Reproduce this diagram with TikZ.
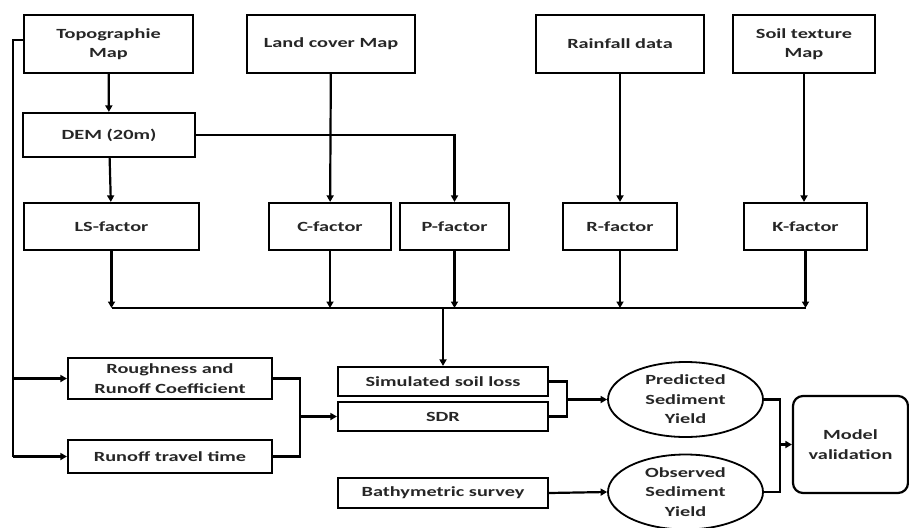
\documentclass[tikz,border=0pt]{standalone}
\usepackage{fontspec}
\setmainfont{Carlito}[FakeStretch=1.45]
\usetikzlibrary{arrows.meta,shapes.geometric}
\begin{document}
\begin{tikzpicture}[x=1pt,y=-1pt,
  every node/.style={font=\bfseries\fontsize{14}{19.5}\selectfont, text=black!85, align=center},
  box/.style={draw, line width=2.2pt, inner sep=0pt},
  ell/.style={draw, line width=1.8pt, ellipse, inner sep=0pt},
  ln/.style={line width=2.2pt},
  arr/.style={line width=2.2pt, -{Triangle[length=6.5pt,width=7pt]}}]
\useasboundingbox (0,0) rectangle (909,527);
% top sources
\node[box, minimum width=169pt, minimum height=58pt] (topo) at (108.5,44) {Topographie\\Map};
\node[box, minimum width=168pt, minimum height=58pt] (land) at (331,44) {Land cover Map};
\node[box, minimum width=168pt, minimum height=58pt] (rain) at (620,44) {Rainfall data};
\node[box, minimum width=142pt, minimum height=58pt] (soil) at (804,44) {Soil texture\\Map};
\node[box, minimum width=172pt, minimum height=44pt] (dem) at (109,135) {DEM (20m)};
% factors
\node[box, minimum width=175pt, minimum height=47pt] (ls) at (111.5,226.5) {LS-factor};
\node[box, minimum width=122pt, minimum height=47pt] (cf) at (330,226.5) {C-factor};
\node[box, minimum width=109pt, minimum height=47pt] (pf) at (454.5,226.5) {P-factor};
\node[box, minimum width=114pt, minimum height=47pt] (rf) at (620,226.5) {R-factor};
\node[box, minimum width=123pt, minimum height=47pt] (kf) at (805.5,226.5) {K-factor};
% lower
\node[box, minimum width=204pt, minimum height=41pt] (rough) at (170,378.5) {Roughness and\\Runoff Coefficient};
\node[box, minimum width=204pt, minimum height=33pt] (rtt) at (170,456.5) {Runoff travel time};
\node[box, minimum width=210pt, minimum height=29pt] (sim) at (443,381.5) {Simulated soil loss};
\node[box, minimum width=210pt, minimum height=29pt] (sdr) at (443,416.5) {SDR};
\node[box, minimum width=210pt, minimum height=30pt] (bath) at (443,493) {Bathymetric survey};
\node[ell, minimum width=155pt, minimum height=75pt] (pred) at (685.5,399.5) {Predicted\\Sediment\\Yield};
\node[ell, minimum width=155pt, minimum height=75pt] (obs) at (685.5,492) {Observed\\Sediment\\Yield};
\node[box, rounded corners=10pt, minimum width=115pt, minimum height=97pt] (mv) at (850.5,444.5) {Model\\validation};
% coordinates
\coordinate (bus) at (0,308);
\coordinate (lx) at (13,0);
\coordinate (mx) at (300,0);
\coordinate (rx) at (567,0);
\coordinate (vx) at (780,0);
% top connectors
\draw[arr] (topo) -- (dem);
\draw[arr] (dem) -- (ls);
\draw[arr] (dem.east) -| (pf.north);
\draw[arr] (land) -- (cf);
\draw[arr] (rain) -- (rf);
\draw[arr] (soil.south) -- (soil.south |- kf.north);
% bus
\foreach \n in {ls,cf,pf,rf,kf} \draw[arr] (\n.south) -- (\n.south |- bus);
\draw[ln] (ls.south |- bus) -- (kf.south |- bus);
\draw[arr] (sim.north |- bus) -- (sim.north);
% left feed
\draw[ln] ([yshift=4pt]topo.west) -| (lx |- rtt.west);
\draw[arr] (lx |- rtt.west) -- (rtt.west);
\draw[arr] (lx |- rough.west) -- (rough.west);
% to SDR
\draw[ln] (rough.east) -| (mx |- rtt.east) -- (rtt.east);
\draw[arr] (mx |- sdr.west) -- (sdr.west);
% to predicted
\draw[ln] (sim.east) -| (rx |- sdr.east) -- (sdr.east);
\draw[arr] (rx |- pred.west) -- (pred.west);
\draw[arr] (bath.east) -- (obs.west);
% to validation
\draw[ln] (pred.east) -| (vx |- obs.east) -- (obs.east);
\draw[arr] (vx |- mv.west) -- (mv.west);
\end{tikzpicture}
\end{document}
